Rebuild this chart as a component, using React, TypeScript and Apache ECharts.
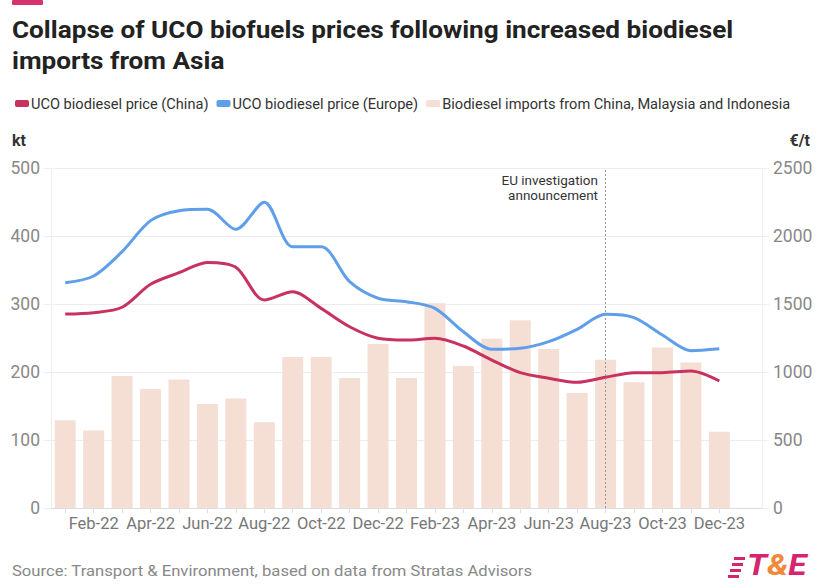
import React, { useEffect, useRef } from "react";
import * as echarts from "echarts";

const months = [
  "Jan-22", "Feb-22", "Mar-22", "Apr-22", "May-22", "Jun-22", "Jul-22", "Aug-22",
  "Sep-22", "Oct-22", "Nov-22", "Dec-22", "Jan-23", "Feb-23", "Mar-23", "Apr-23",
  "May-23", "Jun-23", "Jul-23", "Aug-23", "Sep-23", "Oct-23", "Nov-23", "Dec-23",
];

// kt
const imports = [
  129, 114, 194, 175, 189, 153, 161, 126, 222, 222, 191, 241,
  191, 301, 209, 249, 276, 234, 169, 218, 185, 236, 214, 112,
];

// €/t
const priceChina = [
  1426, 1436, 1476, 1645, 1730, 1806, 1770, 1529, 1590, 1468, 1333, 1248,
  1235, 1248, 1191, 1088, 995, 954, 924, 961, 995, 995, 1007, 934,
];

const priceEurope = [
  1656, 1706, 1885, 2113, 2186, 2196, 2049, 2248, 1921, 1921, 1664, 1542,
  1517, 1468, 1296, 1167, 1174, 1223, 1314, 1424, 1400, 1272, 1157, 1171,
];

const leftTicks = { min: 0, max: 500, interval: 100 };
const rightTicks = { min: 0, max: 2500, interval: 500 };

const FONT = "Roboto, 'Noto Sans', sans-serif";
const RED = "#c8325f";
const BLUE = "#5f9fea";
const BAR = "#f5dfd4";

export default function App() {
  const ref = useRef<HTMLDivElement>(null);

  useEffect(() => {
    if (!ref.current) return;
    const chart = echarts.init(ref.current, undefined, { renderer: "svg" });
    const cats = [...months, ""];
    const option: any = {
      animation: false,
      textStyle: { fontFamily: FONT },
      grid: { left: 51, right: 56, top: 168, bottom: 80, containLabel: false },
      legend: {
        left: 10,
        top: 91,
        itemWidth: 14,
        itemHeight: 7,
        itemGap: 8,
        icon: "roundRect",
        textStyle: { fontSize: 14.6, color: "#333", fontFamily: FONT, padding: [0, 0, 0, -3] },
        data: [
          "UCO biodiesel price (China)",
          "UCO biodiesel price (Europe)",
          "Biodiesel imports from China, Malaysia and Indonesia",
        ],
      },
      xAxis: {
        type: "category",
        data: cats,
        boundaryGap: true,
        axisLine: { show: true, lineStyle: { color: "#ddd" } },
        axisTick: {
          show: true,
          alignWithLabel: true,
          length: 5,
          interval: (i: number) => i < 24,
          lineStyle: { color: "#ddd" },
        },
        axisLabel: {
          interval: (i: number) => i % 2 === 1 && i < 24,
          color: "#777",
          fontSize: 16.5,
          margin: 7,
          fontFamily: FONT,
        },
      },
      yAxis: [
        {
          type: "value",
          ...leftTicks,
          position: "left",
          name: "kt",
          nameLocation: "end",
          nameGap: 20,
          nameTextStyle: { color: "#333", fontWeight: "bold", fontSize: 16, align: "left", padding: [0, 0, 0, -39] },
          axisLine: { show: true, lineStyle: { color: "#eee" } },
          axisTick: { show: true, length: 7, lineStyle: { color: "#eee" } },
          splitLine: { show: true, lineStyle: { color: "#ececec" } },
          axisLabel: { color: "#888", fontSize: 17.5, margin: 11, fontFamily: FONT },
        },
        {
          type: "value",
          ...rightTicks,
          position: "right",
          name: "€/t",
          nameLocation: "end",
          nameGap: 20,
          nameTextStyle: { color: "#333", fontWeight: "bold", fontSize: 16, align: "right", padding: [0, -48, 0, 0] },
          axisLine: { show: true, lineStyle: { color: "#eee" } },
          axisTick: { show: true, length: 7, lineStyle: { color: "#eee" } },
          splitLine: { show: false },
          axisLabel: {
            color: "#888",
            fontSize: 17.5,
            margin: 11,
            fontFamily: FONT,
            formatter: (v: number) => String(v),
          },
        },
      ],
      series: [
        {
          name: "Biodiesel imports from China, Malaysia and Indonesia",
          type: "bar",
          yAxisIndex: 0,
          data: imports,
          barWidth: 21,
          itemStyle: { color: BAR },
          z: 1,
          markLine: {
            silent: true,
            symbol: "none",
            label: { show: false },
            lineStyle: { color: "#999", type: [2, 2], width: 1 },
            data: [{ xAxis: "Aug-23" }],
          },
        },
        {
          name: "UCO biodiesel price (China)",
          type: "line",
          yAxisIndex: 1,
          data: priceChina,
          smooth: 0.3,
          showSymbol: false,
          symbol: "none",
          lineStyle: { color: RED, width: 3 },
          itemStyle: { color: RED },
          z: 3,
        },
        {
          name: "UCO biodiesel price (Europe)",
          type: "line",
          yAxisIndex: 1,
          data: priceEurope,
          smooth: 0.3,
          showSymbol: false,
          symbol: "none",
          lineStyle: { color: BLUE, width: 3 },
          itemStyle: { color: BLUE },
          z: 3,
        },
      ],
      graphic: [
        { type: "rect", shape: { x: 12, y: 0, width: 31, height: 5, r: 1 }, style: { fill: "#d6336e" } },
        {
          type: "text",
          x: 12,
          y: 14,
          scaleX: 1.09,
          style: {
            text: "Collapse of UCO biofuels prices following increased biodiesel\nimports from Asia",
            fontSize: 24,
            fontWeight: "bold",
            lineHeight: 31,
            fill: "#222",
            fontFamily: FONT,
          },
        },
        {
          type: "text",
          x: 598,
          y: 173,
          scaleX: 1.08,
          style: {
            text: "EU investigation\nannouncement",
            fontSize: 12.5,
            lineHeight: 15,
            fill: "#333",
            align: "right",
            fontFamily: FONT,
          },
        },
        {
          type: "text",
          x: 12,
          y: 563,
          scaleX: 1.11,
          style: {
            text: "Source: Transport & Environment, based on data from Stratas Advisors",
            fontSize: 15,
            fill: "#888",
            fontFamily: FONT,
          },
        },
        { type: "rect", shape: { x: 734, y: 557, width: 11, height: 3 }, style: { fill: "#d6246e" } },
        { type: "rect", shape: { x: 732, y: 563, width: 11, height: 3 }, style: { fill: "#d6246e" } },
        { type: "rect", shape: { x: 730, y: 569, width: 11, height: 3 }, style: { fill: "#d6246e" } },
        { type: "rect", shape: { x: 728, y: 575, width: 11, height: 3 }, style: { fill: "#d6246e" } },
        {
          type: "text",
          x: 747,
          y: 551,
          scaleX: 1.15,
          style: {
            text: "{a|T}{b|&}{a|E}",
            rich: {
              a: { fontSize: 29, fontWeight: "bold", fontStyle: "italic", fill: "#d6246e", fontFamily: FONT },
              b: { fontSize: 29, fontWeight: "bold", fontStyle: "italic", fill: "#f2883a", fontFamily: FONT },
            },
          },
        },
      ],
    };
    chart.setOption(option);
    return () => chart.dispose();
  }, []);

  return <div ref={ref} style={{ width: 818, height: 588, position: "absolute", left: 0, top: 0 }} />;
}
